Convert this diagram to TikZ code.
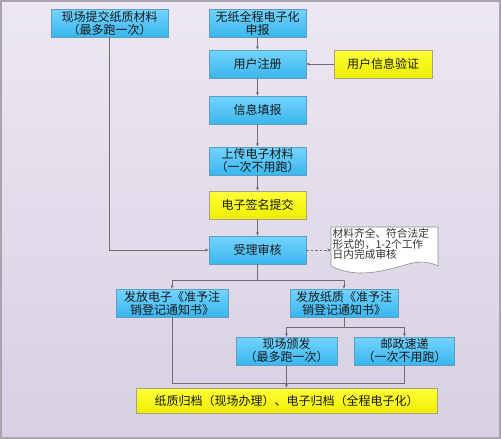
\documentclass[tikz,border=0pt]{standalone}
\usepackage{fontspec}
\newfontfamily\cjk{Noto Sans CJK SC}
\usetikzlibrary{arrows.meta,calc}
\definecolor{bgtop}{HTML}{ECE8F1}
\definecolor{bgbot}{HTML}{D8CFE3}
\definecolor{frame}{HTML}{A8A3AD}
\definecolor{bluetop}{HTML}{74D3FF}
\definecolor{bluebot}{HTML}{3AB6EC}
\definecolor{blueedge}{HTML}{5E9EC2}
\definecolor{yeltop}{HTML}{FFFF3A}
\definecolor{yelbot}{HTML}{EEEE00}
\definecolor{yeledge}{HTML}{A6A38A}
\definecolor{linec}{HTML}{707070}
\definecolor{txt}{HTML}{1A1A1A}
\tikzset{
  bluebox/.style={draw=blueedge, line width=0.8pt, top color=bluetop, bottom color=bluebot,
    minimum height=28pt, inner sep=1pt, align=center, text=txt,
    font=\cjk\fontsize{12}{13}\selectfont},
  yelbox/.style={bluebox, draw=yeledge, top color=yeltop, bottom color=yelbot},
  conn/.style={draw=linec, line width=0.7pt},
  arr/.style={conn, -{Stealth[length=3.5pt,width=3pt]}},
  notetext/.style={align=left, text=black!80, inner sep=1.5pt,
    font=\cjk\fontsize{10.7}{10.4}\selectfont}
}
\begin{document}
\begin{tikzpicture}[x=1pt,y=-1pt]
\useasboundingbox (0,0) rectangle (501,439);
\shade[top color=bgtop, bottom color=bgbot] (0,0) rectangle (501,439);
\draw[frame, line width=1.6pt] (0.8,0.8) rectangle (500.2,438.2);

\node[bluebox, minimum width=117pt] (A) at (109.5,23) {现场提交纸质材料\\（最多跑一次）};
\node[bluebox, minimum width=97pt] (B) at (257.5,23) {无纸全程电子化\\申报};
\node[bluebox, minimum width=97pt] (C) at (257.5,64) {用户注册};
\node[yelbox, minimum width=98pt] (D) at (383,64) {用户信息验证};
\node[bluebox, minimum width=97pt] (E) at (257.5,110) {信息填报};
\node[bluebox, minimum width=97pt] (F) at (257.5,161) {上传电子材料\\（一次不用跑）};
\node[yelbox, minimum width=97pt] (G) at (257.5,205) {电子签名提交};
\node[bluebox, minimum width=97pt] (H) at (257.5,250) {受理审核};
\node[bluebox, minimum width=112pt] (I) at (172,303) {发放电子《准予注\\销登记通知书》};
\node[bluebox, minimum width=108pt] (J) at (344,303) {发放纸质《准予注\\销登记通知书》};
\node[bluebox, minimum width=101pt] (K) at (286.5,351) {现场颁发\\（最多跑一次）};
\node[bluebox, minimum width=100pt] (L) at (404.5,351) {邮政速递\\（一次不用跑）};
\node[yelbox, minimum width=301pt, minimum height=25pt] (M) at (286.5,400.5) {纸质归档（现场办理）、电子归档（全程电子化）};

% note shape
\draw[draw=black!45, fill=white, line width=0.6pt]
  (331,227) -- (438,227) -- (438,266)
  .. controls (428,261) and (418,261) .. (405,265)
  .. controls (385,271) and (355,279) .. (331,266) -- cycle;
\node[notetext, anchor=west] (N) at (331,244.3) {材料齐全、符合法定\\形式的，1-2个工作\\日内完成审核};

% connectors
\draw[arr] (B) -- (C);
\draw[arr] (D) -- (C);
\draw[arr] (C) -- (E);
\draw[arr] (E) -- (F);
\draw[arr] (F) -- (G);
\draw[arr] (G) -- (H);
\draw[arr] (A.south) |- (H.west);
\draw[arr, dashed, dash pattern=on 2.5pt off 2pt] (H.east) -- (H.east -| N.west);

\coordinate (hb) at (257.5,280);
\draw[conn] (H.south) -- (hb);
\draw[arr] (hb) -| (I.north);
\draw[arr] (hb) -| (J.north);

\coordinate (jb) at (344,327);
\draw[conn] (J.south) -- (jb);
\draw[arr] (jb) -| (K.north);
\draw[arr] (jb) -| (L.north);

\coordinate (mg) at (286.5,383);
\draw[conn] (I.south) |- (mg);
\draw[conn] (L.south) |- (mg);
\draw[arr] (K.south) -- (M.north);
\end{tikzpicture}
\end{document}
